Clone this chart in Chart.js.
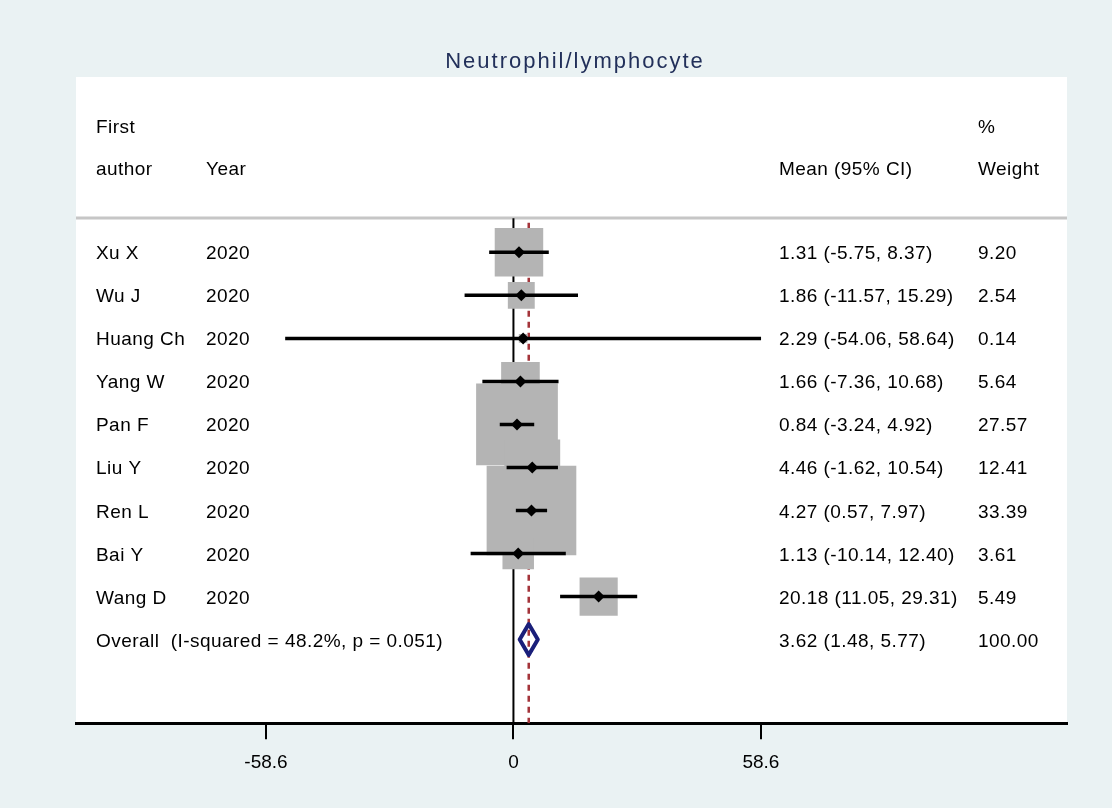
<!DOCTYPE html>
<html>
<head>
<meta charset="utf-8">
<script src="https://cdn.jsdelivr.net/npm/chart.js@4.4.1/dist/chart.umd.min.js"></script>
<style>
  html, body { margin: 0; padding: 0; background: #eaf2f3; }
  #wrap { width: 1112px; height: 808px; }
</style>
</head>
<body>
<div id="wrap"><canvas id="forest" width="1112" height="808"></canvas></div>
<script>
// studies
const authors = ['Xu X', 'Wu J', 'Huang Ch', 'Yang W', 'Pan F', 'Liu Y', 'Ren L', 'Bai Y', 'Wang D'];
const years = [2020, 2020, 2020, 2020, 2020, 2020, 2020, 2020, 2020];
const means = [1.31, 1.86, 2.29, 1.66, 0.84, 4.46, 4.27, 1.13, 20.18];
const lower = [-5.75, -11.57, -54.06, -7.36, -3.24, -1.62, 0.57, -10.14, 11.05];
const upper = [8.37, 15.29, 58.64, 10.68, 4.92, 10.54, 7.97, 12.40, 29.31];
const weights = [9.20, 2.54, 0.14, 5.64, 27.57, 12.41, 33.39, 3.61, 5.49];

// pooled estimate
const overallMean = 3.62;
const overallLower = 1.48;
const overallUpper = 5.77;
const overallWeight = 100.00;
const overallLabel = 'Overall  (I-squared = 48.2%, p = 0.051)';

const xTicks = [-58.6, 0, 58.6];
const chartTitle = 'Neutrophil/lymphocyte';

const FONT = "'Liberation Sans', Arial, sans-serif";
const Y_MIN = -4.075, Y_MAX = 10.943;
const LINE_TOP = -0.79;   // where the reference lines start (just under the header rule)
const overallRow = authors.length;

function fmt(v) { return v.toFixed(2); }

// boxes drawn for each study, size from weight
const boxData = means.map((m, i) => ({ x: m, y: i }));
const boxRadius = ctx => {
    const w = weights[ctx.dataIndex];
    const side = 15 * Math.sqrt(w) + 3;
    return side / Math.SQRT2;
};

const ciSets = means.map((m, i) => ({
    type: 'line',
    data: [{ x: lower[i], y: i }, { x: upper[i], y: i }],
    borderColor: '#000',
    borderWidth: 3.5,
    pointRadius: 0,
    order: 1
}));

const textPlugin = {
    id: 'forestText',
    beforeDraw(chart) {
        const { ctx, chartArea: a } = chart;
        ctx.save();
        ctx.fillStyle = '#eaf2f3';
        ctx.fillRect(0, 0, chart.width, chart.height);
        ctx.fillStyle = '#ffffff';
        ctx.fillRect(a.left, a.top, a.right - a.left, a.bottom - a.top);
        ctx.restore();
    },
    beforeDatasetsDraw(chart) {
        const { ctx, chartArea: a, scales: { y } } = chart;
        ctx.save();
        ctx.strokeStyle = '#c6c6c6';
        ctx.lineWidth = 3;
        const yy = y.getPixelForValue(-0.8);
        ctx.beginPath();
        ctx.moveTo(a.left, yy);
        ctx.lineTo(a.right, yy);
        ctx.stroke();
        ctx.restore();
    },
    afterDraw(chart) {
        const { ctx, scales: { y } } = chart;
        ctx.save();
        // title
        ctx.font = '22px ' + FONT;
        ctx.letterSpacing = '2px';
        ctx.fillStyle = '#22305a';
        ctx.textAlign = 'center';
        ctx.textBaseline = 'alphabetic';
        ctx.fillText(chartTitle, 575, 68);

        ctx.font = '19px ' + FONT;
        ctx.letterSpacing = '0.45px';
        ctx.fillStyle = '#000';
        ctx.textAlign = 'left';
        const colAuthor = 96, colYear = 206, colCI = 779, colW = 978;
        const put = (t, x, row) => ctx.fillText(t, x, y.getPixelForValue(row) + 7);
        put('First', colAuthor, -2.93);
        put('%', colW, -2.93);
        put('author', colAuthor, -1.96);
        put('Year', colYear, -1.96);
        put('Mean (95% CI)', colCI, -1.96);
        put('Weight', colW, -1.96);
        authors.forEach((name, i) => {
            put(name, colAuthor, i);
            put(String(years[i]), colYear, i);
            put(fmt(means[i]) + ' (' + fmt(lower[i]) + ', ' + fmt(upper[i]) + ')', colCI, i);
            put(fmt(weights[i]), colW, i);
        });
        put(overallLabel, colAuthor, overallRow);
        put(fmt(overallMean) + ' (' + fmt(overallLower) + ', ' + fmt(overallUpper) + ')', colCI, overallRow);
        put(fmt(overallWeight), colW, overallRow);
        ctx.restore();
    }
};

const ctx = document.getElementById('forest').getContext('2d');
new Chart(ctx, {
    type: 'scatter',
    data: {
        datasets: [
            // point estimates
            {
                data: boxData,
                pointStyle: 'rectRot',
                pointRadius: 6,
                backgroundColor: '#000',
                borderColor: '#000',
                borderWidth: 0,
                order: 0
            },
            ...ciSets,
            // weight boxes
            {
                data: boxData,
                pointStyle: 'rect',
                pointRadius: boxRadius,
                backgroundColor: '#b4b4b4',
                borderWidth: 0,
                order: 2
            },
            // pooled diamond
            {
                type: 'line',
                data: [
                    { x: overallLower, y: overallRow },
                    { x: overallMean, y: overallRow - 0.36 },
                    { x: overallUpper, y: overallRow },
                    { x: overallMean, y: overallRow + 0.36 },
                    { x: overallLower, y: overallRow }
                ],
                borderColor: '#1a1f7a',
                borderWidth: 4,
                borderJoinStyle: 'round',
                borderCapStyle: 'round',
                pointRadius: 0,
                order: 0
            },
            // no-effect line
            {
                type: 'line',
                data: [{ x: 0, y: LINE_TOP }, { x: 0, y: Y_MAX }],
                borderColor: '#000',
                borderWidth: 2,
                pointRadius: 0,
                order: 4
            },
            // pooled estimate line
            {
                type: 'line',
                data: [{ x: overallMean, y: LINE_TOP + 0.1 }, { x: overallMean, y: Y_MAX }],
                borderColor: '#a4343a',
                borderWidth: 2.5,
                borderDash: [6, 5],
                pointRadius: 0,
                order: 3
            }
        ]
    },
    options: {
        responsive: false,
        animation: false,
        layout: { autoPadding: false, padding: { left: 76, right: 45, top: 77, bottom: 22 } },
        plugins: { legend: { display: false }, tooltip: { enabled: false }, title: { display: false } },
        scales: {
            x: {
                type: 'linear',
                min: -103.6,
                max: 131.1,
                afterBuildTicks: s => { s.ticks = xTicks.map(v => ({ value: v })); },
                afterFit: s => { s.paddingLeft = 0; s.paddingRight = 0; },
                border: { display: true, color: '#000', width: 3 },
                grid: { drawOnChartArea: false, drawTicks: true, tickLength: 16, color: '#000', lineWidth: 2 },
                ticks: {
                    color: '#000',
                    font: { family: FONT, size: 19 },
                    padding: 12,
                    maxRotation: 0,
                    autoSkip: false,
                    callback: v => String(v)
                }
            },
            y: { type: 'linear', reverse: true, min: Y_MIN, max: Y_MAX, display: false }
        }
    },
    plugins: [textPlugin]
});
</script>
</body>
</html>
